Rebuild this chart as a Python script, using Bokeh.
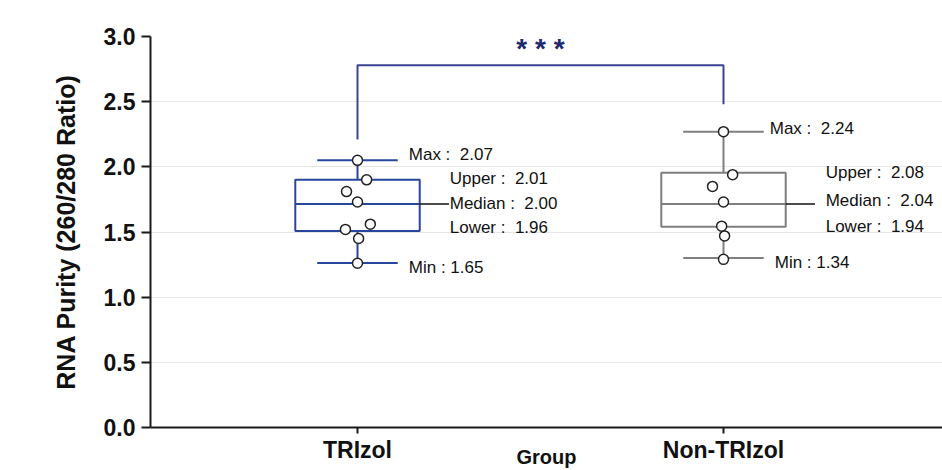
from bokeh.plotting import figure
from bokeh.models import FixedTicker, NumeralTickFormatter, ColumnDataSource, Range1d
from bokeh.embed import file_html
from bokeh.resources import INLINE
from bokeh.core.properties import value

# ---------------- data ----------------
categories = ["TRIzol", "Non-TRIzol"]
cat_x = [1, 2]

# box statistics as drawn
box_max = [2.05, 2.27]
box_upper = [1.90, 1.955]
box_median = [1.714, 1.714]
box_lower = [1.508, 1.54]
box_min = [1.263, 1.30]

# annotation texts
label_max = ["2.07", "2.24"]
label_upper = ["2.01", "2.08"]
label_median = ["2.00", "2.04"]
label_lower = ["1.96", "1.94"]
label_min = ["1.65", "1.34"]

# individual points
trizol_values = [2.05, 1.90, 1.81, 1.73, 1.52, 1.56, 1.45, 1.26]
trizol_jitter = [0.0, 0.025, -0.03, 0.0, -0.033, 0.035, 0.003, 0.0]
nontrizol_values = [2.27, 1.94, 1.85, 1.73, 1.545, 1.47, 1.29]
nontrizol_jitter = [0.0, 0.025, -0.03, 0.0, -0.005, 0.003, 0.0]

y_ticks = [0.0, 0.5, 1.0, 1.5, 2.0, 2.5, 3.0]

# significance bracket
sig_level = 2.78
sig_left_end = 2.21
sig_right_end = 2.48
sig_text_y = 2.91
sig_text = "* * *"

# ---------------- style ----------------
box_colors = ["#27479c", "#7f7f7f"]
box_half = 0.17
cap_half = 0.11
connector_len = 0.08
FONT = "Liberation Sans"

p = figure(width=942, height=470,
           x_range=Range1d(0.4344, 2.5984), y_range=Range1d(0, 3.0),
           output_backend="svg", toolbar_location=None,
           min_border_left=150, min_border_right=0, min_border_top=36, min_border_bottom=30)
p.outline_line_color = None
p.background_fill_color = "white"
p.border_fill_color = "white"

# grid
p.xgrid.grid_line_color = None
p.ygrid.ticker = FixedTicker(ticks=y_ticks)
p.ygrid.grid_line_color = "#e6e6e6"
p.ygrid.grid_line_width = 1

# y axis
p.yaxis.ticker = FixedTicker(ticks=y_ticks)
p.yaxis.formatter = NumeralTickFormatter(format="0.0")
p.yaxis.major_label_text_font = FONT
p.yaxis.major_label_text_font_size = "23px"
p.yaxis.major_label_text_font_style = "bold"
p.yaxis.major_label_text_color = "#111111"
p.yaxis.major_label_standoff = 6
p.yaxis.major_tick_out = 9
p.yaxis.major_tick_in = 0
p.yaxis.major_tick_line_width = 2
p.yaxis.minor_tick_line_color = None
p.yaxis.axis_line_width = 2
p.yaxis.axis_line_color = "#1a1a1a"
p.yaxis.major_tick_line_color = "#1a1a1a"
p.yaxis.axis_label = "RNA Purity (260/280 Ratio)"
p.yaxis.axis_label_text_font = FONT
p.yaxis.axis_label_text_font_size = "25px"
p.yaxis.axis_label_text_font_style = "bold"
p.yaxis.axis_label_text_color = "#111111"
p.yaxis.axis_label_standoff = 21

# x axis
p.xaxis.ticker = FixedTicker(ticks=cat_x)
p.xaxis.major_label_overrides = {x: c for x, c in zip(cat_x, categories)}
p.xaxis.major_label_text_font = FONT
p.xaxis.major_label_text_font_size = "23px"
p.xaxis.major_label_text_font_style = "bold"
p.xaxis.major_label_text_color = "#111111"
p.xaxis.major_label_standoff = 3
p.xaxis.major_tick_out = 6
p.xaxis.major_tick_in = 0
p.xaxis.major_tick_line_width = 2
p.xaxis.minor_tick_line_color = None
p.xaxis.axis_line_width = 2
p.xaxis.axis_line_color = "#1a1a1a"
p.xaxis.major_tick_line_color = "#1a1a1a"
p.xaxis.axis_label = "Group"
p.xaxis.axis_label_text_font = FONT
p.xaxis.axis_label_text_font_size = "20px"
p.xaxis.axis_label_text_font_style = "bold"
p.xaxis.axis_label_text_color = "#111111"
p.xaxis.axis_label_standoff = -20

# ---------------- boxes ----------------
src = ColumnDataSource(dict(
    x=cat_x, top=box_upper, bottom=box_lower, med=box_median,
    vmax=box_max, vmin=box_min, color=box_colors,
    bl=[c - box_half for c in cat_x], br=[c + box_half for c in cat_x],
    cl=[c - cap_half for c in cat_x], cr=[c + cap_half for c in cat_x],
    ce=[c + box_half + connector_len for c in cat_x],
))
# whiskers
p.segment(x0="x", y0="top", x1="x", y1="vmax", source=src, line_color="color", line_width=2)
p.segment(x0="x", y0="bottom", x1="x", y1="vmin", source=src, line_color="color", line_width=2)
# caps
p.segment(x0="cl", y0="vmax", x1="cr", y1="vmax", source=src, line_color="color", line_width=2)
p.segment(x0="cl", y0="vmin", x1="cr", y1="vmin", source=src, line_color="color", line_width=2)
# box
p.vbar(x="x", width=2 * box_half, top="top", bottom="bottom", source=src,
       fill_color="white", fill_alpha=0.0, line_color="color", line_width=2)
# median
p.segment(x0="bl", y0="med", x1="br", y1="med", source=src, line_color="color", line_width=2)
# median connector to label
p.segment(x0="br", y0="med", x1="ce", y1="med", source=src, line_color="#111111", line_width=1.5)

# ---------------- points ----------------
px = [cat_x[0] + j for j in trizol_jitter] + [cat_x[1] + j for j in nontrizol_jitter]
py = trizol_values + nontrizol_values
p.scatter(px, py, size=10, fill_color="white", line_color="#222222", line_width=1.5)

# ---------------- annotations ----------------
lx, ly, lt, xo, yo = [], [], [], [], []
max_xoff = [11, 6]
min_xoff = [11, 11]
mid_xoff = [30, 40]
for i, c in enumerate(cat_x):
    lx.append(c + cap_half); ly.append(box_max[i]); lt.append("Max : \u00a0" + label_max[i])
    xo.append(max_xoff[i]); yo.append([-6, -3][i])
    lx.append(c + box_half); ly.append(box_upper[i]); lt.append("Upper : \u00a0" + label_upper[i])
    xo.append(mid_xoff[i]); yo.append([-1, 0][i])
    lx.append(c + box_half); ly.append(box_median[i]); lt.append("Median : \u00a0" + label_median[i])
    xo.append(mid_xoff[i]); yo.append([-1, -4][i])
    lx.append(c + box_half); ly.append(box_lower[i]); lt.append("Lower : \u00a0" + label_lower[i])
    xo.append(mid_xoff[i]); yo.append([-3, 0][i])
    lx.append(c + cap_half); ly.append(box_min[i]); lt.append("Min : " + label_min[i])
    xo.append(min_xoff[i]); yo.append([5, 4][i])

lsrc = ColumnDataSource(dict(x=lx, y=ly, text=lt, xo=xo, yo=yo))
p.text(x="x", y="y", text="text", x_offset="xo", y_offset="yo", source=lsrc,
       text_font=value(FONT), text_font_size="17px", text_color="#111111",
       text_align="left", text_baseline="middle")

# significance bracket
p.line([cat_x[0], cat_x[0], cat_x[1], cat_x[1]],
       [sig_left_end, sig_level, sig_level, sig_right_end],
       line_color="#3b4494", line_width=2)
p.text(x=[(cat_x[0] + cat_x[1]) / 2], y=[sig_text_y], text=[sig_text],
       text_font=value(FONT), text_font_size="28px", text_font_style="bold",
       text_color="#1e2a6e", text_align="center", text_baseline="middle")

open("out.html", "w").write(file_html(p, INLINE))
